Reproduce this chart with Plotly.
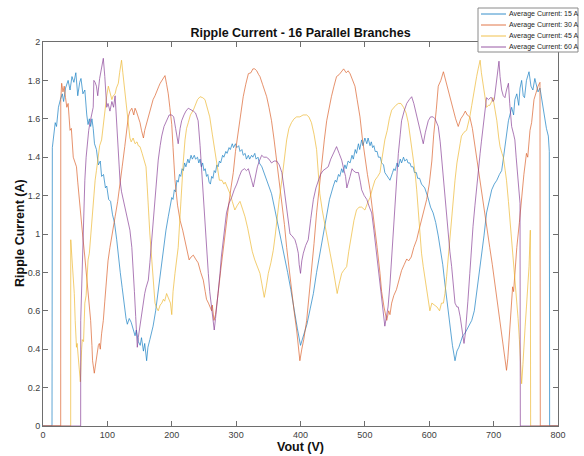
import plotly.graph_objects as go

# ---------------- data (Vout [V], ripple current [A]) ----------------
series_names = ["Average Current: 15 A", "Average Current: 30 A",
                "Average Current: 45 A", "Average Current: 60 A"]
series_colors = ["#0072BD", "#D95319", "#EDB120", "#7E2F8E"]

curve_15A = [(0,0),(14,0),(14.5,1.45),(17,1.52),(19,1.58),(21,1.56),(24,1.66),(27,1.70),(30,1.73),(32,1.69),
    (35,1.76),(39,1.80),(42,1.75),(45,1.82),(48,1.79),(51,1.84),(54,1.72),(57,1.79),(59,1.81),(62,1.73),
    (65,1.75),(68,1.62),(70,1.57),(72,1.60),(74,1.56),(76,1.60),(78,1.55),(80,1.47),(83,1.44),(86,1.36),
    (89,1.38),(91,1.30),(94,1.31),(97,1.24),(99,1.25),(102,1.18),(105,1.17),(108,1.10),(111,1.06),(114.5,0.97),
    (117,0.88),(120,0.80),(123,0.72),(126,0.63),(129,0.56),(131,0.53),(134,0.56),(137,0.54),(140,0.51),(143,0.47),
    (145,0.50),(148,0.44),(151,0.42),(153,0.46),(156,0.39),(158,0.43),(161,0.34),(163,0.41),(166,0.45),(169,0.49),
    (171,0.52),(175,0.60),(179,0.71),(183,0.82),(187,0.93),(191,1.02),(194.6,1.09),(198,1.15),
    (200,1.19),(202,1.18),(204,1.23),(206,1.22),(208,1.28),(210,1.27),(212,1.31),(214,1.30),(216,1.34),(218,1.33),
    (220,1.37),(222,1.35),(225,1.39),(227,1.37),(230,1.41),(232,1.39),(235,1.41),(237,1.39),(240,1.40),(242,1.37),
    (244,1.39),(246,1.35),(248,1.37),(250,1.33),(252,1.34),(254,1.30),(256,1.31),(258,1.27),(260,1.26),(262,1.30),
    (264,1.29),(266,1.33),(268,1.32),(270,1.36),(272,1.35),(274,1.38),(276,1.37),(279,1.41),(281,1.40),(284,1.43),
    (286,1.42),(289,1.45),(291,1.44),(294,1.47),(296,1.45),(299,1.47),(301,1.45),(304,1.46),(306,1.43),(309,1.44),
    (311,1.41),(314,1.42),(316,1.39),(319,1.41),(321,1.39),(324,1.41),(326,1.40),(329,1.42),(331,1.39),(334,1.40),
    (336,1.37),(340,1.35),
    (345,1.30),(350,1.26),(355,1.21),(360,1.13),(365,1.05),(370,0.97),(375,0.89),(380,0.80),(385,0.71),(390,0.60),
    (395,0.51),(400,0.42),(404,0.47),(407,0.50),(410,0.53),(415,0.61),(420,0.69),(425,0.80),(430,0.90),(435,1.00),
    (440,1.10),(445,1.18),(451,1.25),(454,1.28),(456,1.27),(459,1.31),(461,1.30),(464,1.34),(466,1.32),(469,1.36),
    (471,1.34),(474,1.38),(477,1.37),(480,1.41),(482,1.39),(485,1.44),(487,1.42),(490,1.47),(492,1.44),(495,1.49),
    (497,1.46),(500,1.50),(503,1.47),(505,1.50),(508,1.46),(510,1.48),(512,1.45),(514,1.46),(516,1.43),(519,1.43),
    (521,1.40),(524,1.40),(526,1.37),(529,1.36),(531,1.32),(535,1.30),(539,1.28),(543,1.32),(545,1.34),(547,1.33),
    (550,1.37),(552,1.35),(555,1.39),(557,1.37),(560,1.40),(562,1.38),(565,1.39),(567,1.37),(570,1.37),(572,1.35),
    (575,1.35),(577,1.32),(580,1.32),(582,1.29),(585,1.29),(588,1.26),
    (593,1.24),(598,1.19),(602,1.14),(606,1.11),(610,1.06),(614,0.99),(617,0.93),(621,0.84),(624,0.75),
    (627,0.66),(630,0.57),(633,0.48),(636,0.42),(638,0.38),(640,0.34),(643,0.39),(646,0.41),(649,0.44),(652,0.47),
    (655,0.48),(658,0.50),(662,0.53),(666,0.55),(670,0.60),(673.6,0.69),(677,0.77),(681,0.87),(685,0.99),(689,1.11),
    (693,1.18),(697,1.23),(701,1.26),(705,1.28),(709,1.31),(712.5,1.33),(715,1.39),(717.6,1.46),(720,1.52),(723,1.59),
    (726,1.63),(728,1.66),(731,1.62),(733,1.70),(736,1.73),(739,1.67),(741,1.76),(743.5,1.80),(746,1.72),(748,1.71),
    (751,1.80),(755,1.845),(758,1.77),(761,1.75),(764,1.81),(766.5,1.78),(769,1.74),(772,1.76),(774.6,1.70),(777,1.64),
    (779.7,1.59),(782,1.55),(785,1.51),(786.5,1.43),(787,0),(800,0)]

curve_30A = [(0,0),(27.5,0),(27.6,1.70),(29,1.785),(31,1.74),(33,1.77),(35,1.71),(37,1.66),(39,1.68),(41,1.60),
    (42,1.54),(44,1.55),(46,1.45),(47,1.40),(50,1.37),(52,1.35),(54,1.27),(56,1.19),(58,1.13),(60,1.04),
    (62,0.98),(65,0.88),(67,0.80),(70,0.69),(72,0.62),(74,0.55),(76,0.42),(77,0.34),(79.7,0.275),(82,0.33),
    (84,0.36),(86,0.42),(87.5,0.43),(89,0.40),(91,0.48),(93.7,0.55),(96,0.65),(99,0.795),(101,0.86),(104,0.93),
    (108,1.02),(112,1.09),(116,1.17),(119.6,1.25),(123,1.35),(127,1.455),(130,1.55),(132.5,1.61),(135,1.64),(138,1.655),
    (141,1.62),(143,1.655),(145,1.64),(148,1.61),(150.7,1.58),(153,1.54),(156,1.50),(158,1.54),(161,1.58),(164,1.62),
    (167,1.65),(171,1.70),(174,1.72),(177,1.75),(180,1.77),(182,1.785),(185,1.80),(189.5,1.825),(192,1.78),(194.6,1.73),
    (197,1.66),(200,1.57),(202,1.45),(205,1.28),(209,1.15),(213,1.07),(217,1.02),(220.6,0.97),(224,0.91),(227,0.865),
    (230,0.88),(233.5,0.89),(237,0.87),(241,0.85),(245,0.80),(249,0.76),(252,0.70),(254,0.66),(257,0.64),(260,0.62),
    (262,0.60),(263,0.63),(265.6,0.55),(268,0.58),(270,0.65),(272,0.69),(276,0.81),(280,0.93),(284,1.04),(288,1.14),
    (292,1.24),(295.6,1.32),(299,1.43),(303,1.525),(307,1.62),(311,1.715),(315,1.78),(319,1.835),(323,1.84),(326,1.86),
    (329,1.86),(332,1.85),(335,1.83),(337,1.82),(341,1.78),(344,1.75),(347.5,1.715),(351,1.66),(355,1.59),(359,1.49),
    (363,1.385),(367,1.28),(371,1.18),(375,1.05),(378.5,0.93),(382,0.82),(386,0.71),(390,0.60),(394,0.50),(397,0.40),
    (399,0.34),(402,0.40),(405,0.45),(409.6,0.55),(413,0.66),(417,0.795),(421,0.95),(425,1.11),(429,1.25),(433,1.385),
    (437,1.49),(440.7,1.59),(444,1.65),(448,1.715),(452,1.77),(456,1.82),(460,1.83),(464,1.85),(467,1.86),(471,1.84),
    (474,1.85),(477,1.835),(481,1.80),(484.6,1.77),(488,1.70),(492.4,1.61),(496,1.50),(500,1.40),(504,1.31),(508,1.23),
    (512,1.13),(515.7,1.04),(519,0.93),(523.5,0.795),(526,0.70),(529.7,0.62),(532,0.59),(534,0.55),(537,0.60),(539,0.58),
    (541.6,0.64),(545,0.68),(549,0.71),(553,0.76),(557,0.81),(561,0.84),(565,0.87),(568,0.86),(572,0.88),(576,0.93),
    (580.5,0.97),(584,1.02),(588,1.07),(592,1.12),(596,1.18),(600,1.26),(604,1.38),(607,1.52),(609,1.58),(611,1.65),
    (614,1.77),(618,1.80),(622,1.845),(626,1.79),(629.5,1.75),(633,1.70),(637,1.645),(641,1.60),(645,1.56),(649,1.60),
    (653,1.62),(656,1.64),(659,1.62),(663,1.61),(667,1.55),(671,1.455),(675,1.36),(679,1.26),(683,1.17),(686.5,1.09),
    (690,1.01),(694,0.93),(698,0.84),(702,0.74),(706,0.64),(710,0.535),(713,0.46),(715,0.40),(717,0.34),(720,0.29),
    (722,0.35),(725,0.48),(727,0.58),(729.5,0.725),(731,0.70),(733,0.82),(736,0.93),(740,1.06),(743.5,1.19),(747,1.31),
    (751,1.42),(753,1.40),(756.5,1.54),(759,1.58),(762.7,1.70),(766,1.74),(769,1.77),(772,1.79),(772.5,0),(800,0)]

curve_45A = [(0,0),(43,0),(43.1,0.97),(45.5,0.83),(47,0.80),(48.6,0.69),(50,0.55),(52,0.41),(53,0.43),(55,0.36),
    (57,0.30),(58,0.23),(60,0.40),(61,0.45),(63,0.44),(65,0.64),(67,0.68),(70,0.865),(72,0.90),(75.6,1.07),
    (78,1.17),(81,1.28),(83,1.33),(86,1.42),(88,1.46),(91,1.49),(94,1.58),(96,1.645),(99,1.72),(101.5,1.77),
    (104,1.74),(107,1.70),(109,1.72),(112,1.73),(114,1.76),(117,1.785),(119,1.84),(122,1.905),(124,1.84),(127,1.75),
    (130,1.65),(132.5,1.58),(135,1.50),(137,1.48),(140,1.50),(143,1.47),(146,1.48),(148,1.46),(150.7,1.455),(154,1.42),
    (157,1.38),(160,1.35),(162,1.24),(163.6,1.11),(166,1.00),(169,0.865),(171,0.77),(174,0.64),(176,0.62),(179,0.60),
    (182,0.63),(184.5,0.64),(187,0.66),(189,0.65),(192,0.69),(195,0.66),(198,0.64),(200,0.58),(202,0.70),(205,0.795),
    (208,0.88),(210,0.93),(213,1.10),(215.4,1.25),(218,1.38),(220.6,1.49),(223,1.55),(225.7,1.58),(229,1.62),(233.5,1.645),
    (237,1.67),(240,1.70),(244,1.715),(248,1.71),(251.6,1.70),(255,1.66),(259,1.61),(263,1.52),(267,1.44),(270,1.36),
    (274,1.28),(278,1.28),(281,1.26),(283,1.27),(287,1.24),(290.5,1.21),(294,1.17),(298,1.125),(302,1.15),(306,1.17),
    (310,1.13),(313.8,1.09),(318,1.03),(321.5,0.97),(325,0.91),(329,0.865),(333,0.83),(337,0.795),(340,0.74),(343.7,0.67),
    (347,0.73),(350,0.795),(354,0.85),(357.7,0.915),(361,1.00),(363,1.07),(367,1.18),(371,1.28),(375,1.39),(378.5,1.49),
    (382,1.55),(386,1.58),(390,1.60),(394,1.61),(399,1.61),(404,1.62),(409.6,1.62),(413,1.61),(417,1.58),(421,1.52),
    (425,1.44),(428,1.32),(430,1.21),(434,1.12),(438,1.04),(442,0.97),(446,0.90),(451,0.81),(454,0.75),(457,0.69),
    (460,0.74),(464,0.795),(467,0.81),(471.7,0.83),(475,0.91),(479.5,1.00),(483,1.07),(487,1.125),(491,1.14),(495,1.14),
    (500,1.125),(504,1.16),(508,1.19),(512,1.24),(515.7,1.28),(520,1.30),(523.5,1.32),(526,1.38),(528.6,1.44),(531,1.49),
    (534.8,1.54),(538,1.60),(541.6,1.645),(545,1.66),(548,1.67),(552,1.68),(556,1.68),(560,1.66),(564,1.63),(567.4,1.58),
    (571,1.50),(575,1.40),(578,1.32),(580.5,1.23),(583,1.10),(585.6,0.97),(588,0.90),(590.7,0.83),(594,0.76),(597,0.69),
    (601,0.60),(604,0.64),(608,0.63),(612,0.62),(616,0.60),(619,0.64),(622,0.64),(624.4,0.69),(627,0.78),(629.5,0.88),
    (632,0.98),(634.8,1.09),(637,1.18),(640,1.28),(643,1.37),(645,1.42),(648,1.47),(650,1.51),(654,1.53),(658,1.54),
    (661,1.58),(663,1.61),(666,1.67),(668,1.715),(671,1.77),(673.6,1.82),(676,1.86),(679,1.905),(681,1.84),(684,1.77),
    (687,1.70),(689,1.66),(692,1.67),(694,1.67),(697,1.69),(699,1.71),(702,1.65),(705,1.59),(708,1.50),(710,1.455),
    (713,1.42),(715,1.40),(718,1.33),(720,1.28),(723,1.17),(725,1.09),(728,0.98),(730.5,0.88),(733,0.77),(736,0.66),
    (738,0.56),(740,0.45),(742,0.32),(743.5,0.22),(745.5,0.32),(747.6,0.41),(749,0.52),(751,0.62),(753,0.72),(755,0.83),
    (757,1.02),(757.5,0),(800,0)]

curve_60A = [(0,0),(58.5,0),(58.6,0.55),(60,0.71),(61,0.88),(62.6,1.06),(64,1.20),(65,1.28),(67,1.40),(69,1.48),
    (71,1.54),(73,1.58),(76,1.62),(78,1.66),(79,1.80),(81,1.79),(83,1.77),(85,1.72),(88,1.81),(91,1.86),
    (93.7,1.915),(96,1.82),(99,1.66),(101,1.68),(104,1.64),(107,1.69),(109.6,1.66),(112,1.72),(114.5,1.58),(117,1.45),
    (119.6,1.28),(122,1.22),(124.7,1.18),(127,1.14),(130,1.11),(135,1.02),(138,0.93),(140,0.83),(142,0.70),(144,0.57),
    (145.5,0.48),(146.5,0.41),(148,0.46),(150.7,0.52),(153,0.58),(156,0.66),(158,0.69),(160,0.72),(163.6,0.76),(166,0.85),
    (169,0.97),(172,1.10),(174,1.19),(177,1.30),(179,1.385),(182,1.46),(184.4,1.51),(188,1.56),(192,1.59),(196,1.62),
    (200,1.62),(203,1.61),(206,1.55),(208,1.50),(210,1.47),(213,1.55),(215.4,1.59),(219,1.62),(222,1.64),(225.7,1.655),
    (229,1.65),(233.5,1.64),(237,1.63),(241,1.59),(244,1.46),(246.5,1.32),(249,1.18),(251.6,1.04),(254,0.92),(256.8,0.795),
    (259,0.70),(262,0.62),(264,0.56),(266,0.50),(268,0.56),(270,0.62),(272,0.70),(275,0.795),(277,0.88),(280,0.97),
    (282,1.04),(285,1.11),(289,1.16),(293,1.19),(297,1.23),(301,1.26),(305,1.30),(308.6,1.33),(313,1.34),(316,1.33),
    (319,1.34),(322,1.31),(324,1.28),(326.7,1.245),(330,1.30),(333,1.35),(336,1.38),(339.7,1.41),(343,1.40),(347,1.40),
    (351,1.39),(355,1.37),(359,1.38),(363,1.38),(367,1.36),(371,1.32),(374,1.25),(378.5,1.14),(381,1.07),(383.7,1.00),
    (387,0.99),(391.4,0.97),(394,0.94),(396.6,0.90),(398,0.84),(400,0.795),(402,0.86),(404.4,0.90),(408,0.94),(412,0.97),
    (416,1.08),(420,1.18),(424,1.24),(427.6,1.28),(431,1.31),(435,1.33),(439,1.34),(443,1.35),(447,1.39),(451,1.42),
    (454,1.44),(456,1.455),(460,1.42),(464,1.385),(467,1.34),(470,1.30),(472,1.24),(474,1.26),(477,1.30),(480,1.34),
    (482,1.33),(486,1.32),(490,1.32),(493,1.27),(495,1.23),(499,1.20),(503,1.18),(507,1.14),(510.6,1.11),(514,1.02),
    (518,0.90),(522,0.79),(526,0.69),(528,0.61),(531,0.52),(533,0.56),(536,0.62),(539,0.74),(541.6,0.88),(544,1.02),
    (546.7,1.18),(549,1.30),(552,1.42),(555,1.52),(557,1.59),(561,1.64),(565,1.68),(569,1.70),(572.7,1.715),(576,1.68),
    (580.5,1.62),(584,1.57),(587,1.52),(590.7,1.47),(594,1.53),(598.5,1.59),(602,1.61),(606,1.61),(609,1.60),(612,1.58),
    (614,1.56),(617,1.48),(619,1.40),(622,1.29),(624.4,1.19),(627,1.09),(629.5,1.00),(632,0.91),(634.8,0.83),(637,0.74),
    (640,0.64),(643,0.62),(645,0.62),(648,0.57),(650,0.52),(652,0.47),(654,0.43),(656,0.48),(658,0.55),(660,0.65),
    (663,0.795),(665,0.90),(668,1.04),(671,1.15),(673.6,1.25),(676,1.33),(679,1.42),(681,1.48),(684,1.56),(687,1.65),
    (689,1.71),(692,1.70),(695,1.71),(697,1.71),(699,1.69),(701,1.70),(703,1.76),(705,1.82),(708.3,1.90),(710,1.82),
    (712.5,1.75),(715,1.72),(717.6,1.71),(720,1.75),(723,1.785),(725,1.68),(728,1.56),(731,1.52),(733,1.49),(735,1.40),
    (737,1.32),(739,1.24),(741,1.16),(741.5,0),(800,0)]

x_ticks = [0, 100, 200, 300, 400, 500, 600, 700, 800]
y_ticks = [0, 0.2, 0.4, 0.6, 0.8, 1, 1.2, 1.4, 1.6, 1.8, 2]
y_tick_text = ["0", "0.2", "0.4", "0.6", "0.8", "1", "1.2", "1.4", "1.6", "1.8", "2"]

# ---------------- figure ----------------
W, H = 584, 456
ML, MR, MT, MB = 43, 26, 42, 30
PW, PH = W - ML - MR, H - MT - MB
FONT = "Liberation Sans, Arial, sans-serif"

def px_to_paper(px, py):
    return (px - ML) / PW, (H - MB - py) / PH

fig = go.Figure()
for name, color, curve in zip(series_names, series_colors,
                              [curve_15A, curve_30A, curve_45A, curve_60A]):
    fig.add_trace(go.Scatter(x=[p[0] for p in curve], y=[p[1] for p in curve],
                             mode="lines", name=name,
                             line=dict(color=color, width=0.7),
                             opacity=0.9, showlegend=False))

axis_common = dict(showline=True, linecolor="#6e6e6e", linewidth=1, mirror="ticks",
                   ticks="inside", ticklen=5, tickcolor="#6e6e6e", tickwidth=1,
                   showgrid=False, zeroline=False,
                   tickfont=dict(family=FONT, size=9, color="#404040"))

fig.update_xaxes(range=[0, 800], tickvals=x_ticks, **axis_common,
                 title=dict(text="<b>Vout (V)</b>", standoff=3,
                            font=dict(family=FONT, size=12.5, color="#111")))
fig.update_yaxes(range=[0, 2], tickvals=y_ticks, ticktext=y_tick_text, **axis_common)

# legend drawn as a boxed key (MATLAB style, compact)
shapes = []
annotations = []
bx0, by0 = px_to_paper(478, 52)
bx1, by1 = px_to_paper(578, 8)
shapes.append(dict(type="rect", xref="paper", yref="paper", x0=bx0, y0=by0, x1=bx1, y1=by1,
                   line=dict(color="#8a8a8a", width=1), fillcolor="white", layer="above"))
for k, (name, color) in enumerate(zip(series_names, series_colors)):
    py = 14 + k * 11
    lx0, ly = px_to_paper(481, py)
    lx1, _ = px_to_paper(506, py)
    shapes.append(dict(type="line", xref="paper", yref="paper", x0=lx0, x1=lx1, y0=ly, y1=ly,
                       line=dict(color=color, width=0.8), layer="above"))
    tx, _ = px_to_paper(507, py)
    annotations.append(dict(text=name, xref="paper", yref="paper", x=tx, y=ly,
                            xanchor="left", yanchor="middle", showarrow=False,
                            font=dict(family=FONT, size=7, color="#262626")))

# y-axis title placed like the original (centre about 20 px from the left edge)
ytx, yty = px_to_paper(20, 233)
annotations.append(dict(text="<b>Ripple Current (A)</b>", xref="paper", yref="paper",
                        x=ytx, y=yty, xanchor="center", yanchor="middle", textangle=-90,
                        showarrow=False, font=dict(family=FONT, size=12.5, color="#111")))

fig.update_layout(
    width=W, height=H,
    margin=dict(l=ML, r=MR, t=MT, b=MB, autoexpand=False),
    paper_bgcolor="white", plot_bgcolor="white",
    title=dict(text="<b>Ripple Current - 16 Parallel Branches</b>",
               x=0.5, xref="paper", xanchor="center",
               y=1 - 32.5 / H, yref="container", yanchor="middle",
               font=dict(family=FONT, size=12.5, color="#111")),
    shapes=shapes, annotations=annotations, showlegend=False,
)

fig.write_html("out.html")
